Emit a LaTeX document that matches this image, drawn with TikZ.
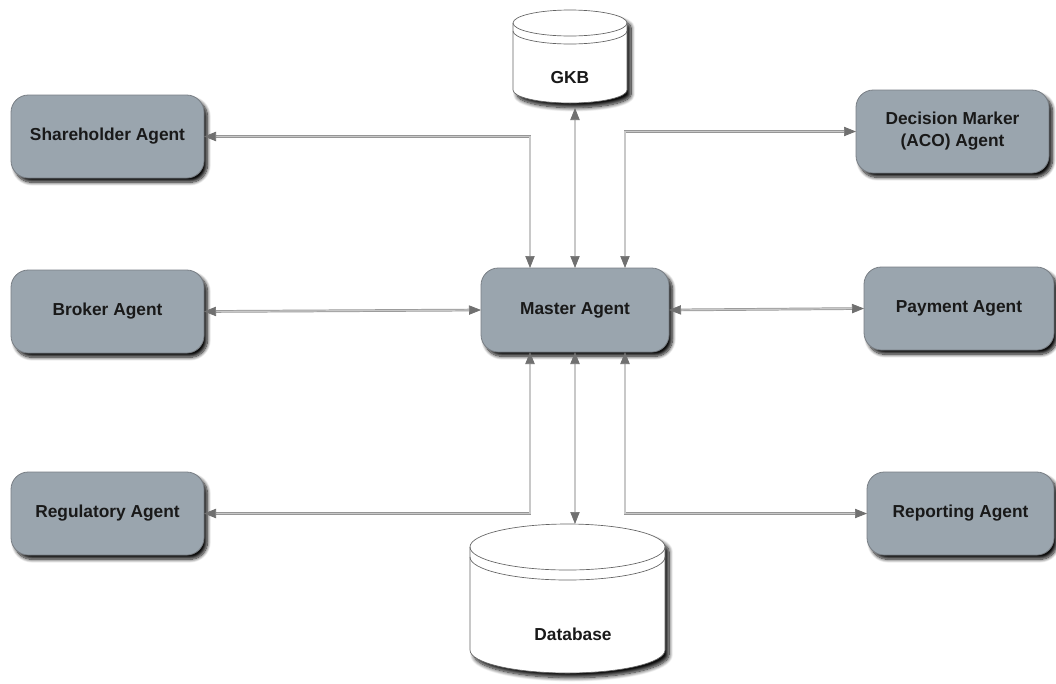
\documentclass[tikz,border=0pt]{standalone}
\usepackage{fontspec}
\setmainfont{Liberation Sans}
\usetikzlibrary{arrows.meta,shadows.blur}
\definecolor{agentfill}{RGB}{154,165,174}
\definecolor{agentline}{RGB}{120,126,132}
\definecolor{linkedge}{RGB}{150,150,150}
\definecolor{linkcore}{RGB}{200,200,200}
\definecolor{tipgray}{RGB}{112,112,112}
\definecolor{cylline}{RGB}{100,100,100}
\tikzset{
  agent/.style={draw=agentline, line width=0.6pt, fill=agentfill,
    rounded corners=13pt, minimum height=62.25pt, outer sep=0pt,
    align=center, text=black!90,
    font=\bfseries\fontsize{13}{16.5}\selectfont,
    blur shadow={shadow xshift=2.6pt, shadow yshift=-3.2pt,
      shadow opacity=95, shadow blur radius=2.6pt, shadow blur steps=10}},
  cyl/.style={draw=cylline, line width=0.5pt, fill=white,
    blur shadow={shadow xshift=3pt, shadow yshift=-3.5pt,
      shadow opacity=95, shadow blur radius=3pt, shadow blur steps=10}},
  rim/.style={draw=cylline, line width=0.5pt},
  cyllabel/.style={text=black!90, font=\bfseries\fontsize{13}{16}\selectfont},
  link/.style={draw=linkedge, line width=0.55pt,
    double=linkcore, double distance=0.9pt,
    arrows={Triangle[length=9pt,width=7pt,color=tipgray]-Triangle[length=9pt,width=7pt,color=tipgray]}}
}
\begin{document}
\begin{tikzpicture}[x=0.75pt,y=-0.75pt]
\useasboundingbox (0,0) rectangle (1056,683);

% GKB cylinder
\path[cyl] (513,23) -- (513,90)
  arc[start angle=180, end angle=0, x radius=57, y radius=13]
  -- (627,23)
  arc[start angle=360, end angle=180, x radius=57, y radius=13] -- cycle;
\draw[rim] (513,23) arc[start angle=180, end angle=0, x radius=57, y radius=13];
\draw[rim] (513,31) arc[start angle=180, end angle=0, x radius=57, y radius=13];
\node[cyllabel] (gkb) at (570,78) {GKB};
\coordinate (gkbbase) at (575,108);

% Database cylinder
\path[cyl] (470,547) -- (470,650)
  arc[start angle=180, end angle=0, x radius=97.5, y radius=23]
  -- (665,547)
  arc[start angle=360, end angle=180, x radius=97.5, y radius=23] -- cycle;
\draw[rim] (470,547) arc[start angle=180, end angle=0, x radius=97.5, y radius=23];
\draw[rim] (470,557) arc[start angle=180, end angle=0, x radius=97.5, y radius=23];
\node[cyllabel] (db) at (573,634) {Database};
\coordinate (dbtop) at (575,524);

% agents
\node[agent, minimum width=144.75pt] (sh) at (107.5,136.5) {Shareholder Agent};
\node[agent, minimum width=144.75pt] (br) at (107.5,311.5) {Broker Agent};
\node[agent, minimum width=144.75pt] (rg) at (107.5,513.5) {Regulatory Agent};
\node[agent, minimum width=141pt, minimum height=63pt] (ma) at (575,310) {Master Agent};
\node[agent, minimum width=144.75pt] (dm) at (952.5,131.5) {Decision Marker\\(ACO) Agent};
\node[agent, minimum width=142.5pt] (pa) at (959,308.5) {Payment Agent};
\node[agent, minimum width=140.25pt] (rp) at (960.5,513.5) {Reporting Agent};

% connectors
\draw[link] (sh.east) -| ([xshift=-33.75pt]ma.north);
\draw[link] (gkbbase) -- (ma.north);
\draw[link] (dm.west) -| ([xshift=37.5pt]ma.north);
\draw[link] (br.east) -- (ma.west);
\draw[link] (ma.east) -- (pa.west);
\draw[link] (rg.east) -| ([xshift=-33.75pt]ma.south);
\draw[link] (ma.south) -- (dbtop);
\draw[link] (rp.west) -| ([xshift=37.5pt]ma.south);
\end{tikzpicture}
\end{document}
